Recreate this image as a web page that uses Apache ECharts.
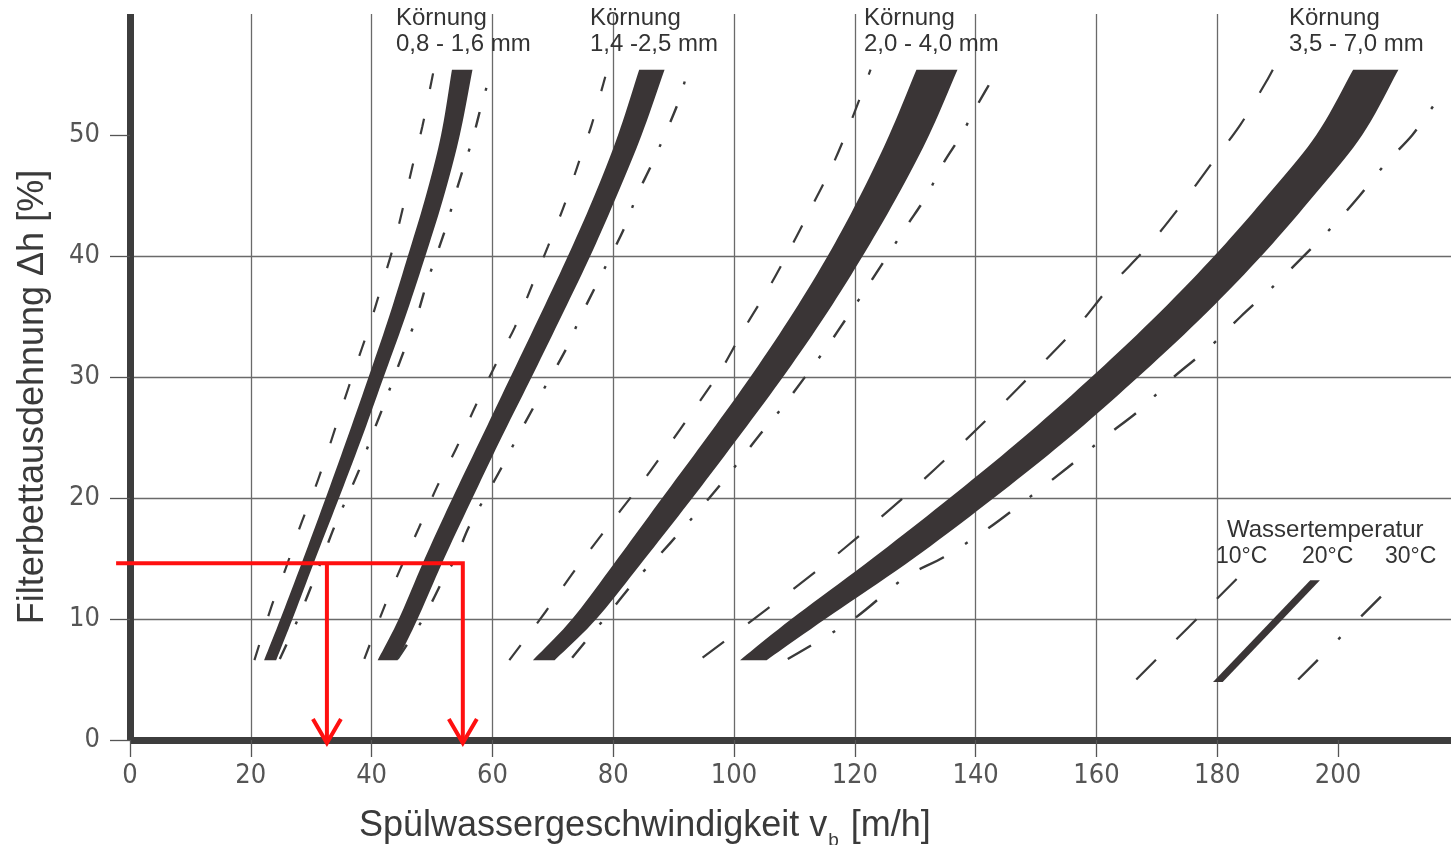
<!DOCTYPE html>
<html><head><meta charset="utf-8">
<script src="https://cdn.jsdelivr.net/npm/echarts@6.0.0/dist/echarts.min.js"></script>
<style>html,body{margin:0;padding:0;background:#fff}#c{width:1451px;height:845px}</style>
</head><body><div id="c"></div><script>
// ---- tick labels ----
const xTickValues = [0, 20, 40, 60, 80, 100, 120, 140, 160, 180, 200];
const yTickValues = [0, 10, 20, 30, 40, 50];

// ---- 20°C bands (left / right edge at each level of Δh) ----
const bandLevels  = [6.6, 10, 15, 20, 25, 30, 35, 40, 45, 50, 55.4];
const g1BandLeft  = [22.2, 24.9, 28.7, 32.4, 36.0, 39.5, 42.9, 46.0, 49.0, 51.5, 53.3];
const g1BandRight = [24.2, 26.9, 30.7, 34.6, 38.4, 42.0, 45.6, 48.9, 52.0, 54.6, 56.7];
const g2BandLeft  = [41.0, 44.5, 48.8, 53.4, 58.2, 63.0, 67.8, 72.5, 76.9, 80.8, 84.3];
const g2BandRight = [44.3, 47.6, 52.0, 56.7, 61.5, 66.5, 71.4, 76.2, 80.6, 84.7, 88.5];
const g3BandLeft  = [66.7, 73.2, 80.75, 88.1, 95.5, 102.7, 109.4, 115.5, 120.9, 125.7, 130.2];
const g3BandRight = [70.3, 77.2, 85.25, 93.1, 100.7, 108.1, 115.0, 121.3, 127.1, 132.3, 137.0];
const g4BandLeft  = [101.0, 109.5, 122.9, 135.7, 147.9, 159.2, 169.8, 179.5, 188.3, 196.4, 202.5];
const g4BandRight = [105.4, 115.1, 129.7, 143.0, 155.5, 166.9, 177.6, 187.3, 196.0, 204.0, 210.0];

// ---- 10°C dashed curves [v, Δh] ----
const g1Cold = [[20.6,6.6],[23.4,11.0],[25.8,14.2],[28.2,17.7],[30.7,20.9],[32.9,24.1],[35.1,27.5],[37.3,30.8],[39.5,34.0],[41.7,37.6],[43.5,40.6],[45.2,44.0],[46.8,47.5],[48.4,50.7],[49.9,54.4],[50.3,55.4]];
const g2Cold = [[38.8,6.7],[42.1,11.0],[44.8,14.2],[47.8,17.5],[50.8,20.9],[54.1,24.2],[57.2,27.6],[60.7,31.2],[63.7,34.1],[66.5,37.5],[69.2,40.8],[71.9,44.2],[74.2,47.6],[76.4,50.8],[78.4,54.3],[79.0,55.4]];
const g3Cold = [[62.8,6.6],[68.8,10.6],[73.6,14.0],[78.6,17.3],[83.9,20.7],[88.7,24.0],[93.5,27.4],[98.0,30.7],[101.8,34.1],[105.8,37.4],[109.4,40.7],[112.9,44.1],[116.3,47.5],[119.1,50.8],[121.8,54.3],[122.6,55.4]];
const g4Cold = [[94.8,6.8],[105.4,10.8],[114.5,14.3],[122.2,17.5],[129.8,20.8],[136.9,24.1],[143.7,27.4],[150.4,30.8],[156.9,34.2],[162.3,37.5],[168.7,40.9],[174.0,44.2],[179.0,47.6],[183.9,50.9],[188.1,54.4],[189.2,55.4]];

// ---- 30°C dash-dot curves [v, Δh] ----
const g1Warm = [[24.8,6.7],[27.9,10.1],[30.8,13.7],[31.9,15.1],[33.9,17.7],[38.0,22.4],[40.0,25.1],[41.8,27.4],[45.6,32.5],[47.5,35.0],[49.1,37.7],[52.4,42.5],[53.8,45.0],[55.4,47.6],[56.9,50.0],[58.2,52.5],[59.6,54.9]];
const g2Warm = [[44.3,6.7],[48.5,10.0],[52.2,13.6],[54.0,15.1],[56.1,17.6],[61.5,22.5],[64.2,25.1],[66.7,27.4],[72.4,32.5],[74.6,35.0],[77.3,37.7],[82.0,42.5],[83.9,45.0],[86.4,47.6],[90.7,52.6],[92.1,54.9]];
const g3Warm = [[73.2,6.8],[78.5,10.0],[84.2,13.5],[87.3,15.1],[91.6,17.5],[95.9,20.0],[100.0,22.5],[103.9,25.0],[108.0,27.5],[115.4,32.5],[118.8,35.0],[122.4,37.7],[128.6,42.5],[131.8,44.9],[134.7,47.7],[137.5,49.9],[140.3,52.5],[143.1,54.9]];
const g4Warm = [[108.9,6.7],[119.8,10.0],[128.5,13.5],[134.7,15.1],[142.1,17.5],[148.5,19.9],[155.2,22.5],[161.3,25.0],[167.5,27.4],[172.8,30.0],[178.6,32.4],[183.9,35.0],[189.5,37.6],[199.2,42.5],[203.6,45.0],[207.8,47.6],[212.3,50.0],[215.9,52.5]];

// ---- legend key (Wassertemperatur) ----
const keyBandLevels = [4.8, 13.2];
const keyBandLeft   = [179.3, 195.4];
const keyBandRight  = [180.9, 197.0];
const keyCold = [[166.6,5.0],[183.4,13.4]];
const keyWarm = [[193.4,5.0],[209.8,13.2]];

// ---- red reading construction ----
const readLevel  = 14.6;
const readStartX = -2.3;
const readValues = [32.6, 55.1];
const readTipY   = -0.25;

// ---- texts ----
const grainLabels = ['Körnung\n0,8 - 1,6 mm', 'Körnung\n1,4 -2,5 mm', 'Körnung\n2,0 - 4,0 mm', 'Körnung\n3,5 - 7,0 mm'];
const tempTitle = 'Wassertemperatur';
const tempLabels = ['10°C', '20°C', '30°C'];

const BAND = '#3a3536';
const LINE = '#3a3a3a';
const axisFont = "'Liberation Sans Narrow','DejaVu Sans Condensed','Liberation Sans',Arial,sans-serif";
const textFont = "'Liberation Sans',Arial,Helvetica,sans-serif";

function spline(p) {
  const out = [], n = p.length;
  if (n < 3) return p.slice();
  for (let i = 0; i < n - 1; i++) {
    const p0 = p[Math.max(i - 1, 0)], p1 = p[i], p2 = p[i + 1], p3 = p[Math.min(i + 2, n - 1)];
    for (let s = 0; s < 10; s++) {
      const t = s / 10, t2 = t * t, t3 = t2 * t;
      const f = (a, b, c, d) => 0.5 * (2 * b + (-a + c) * t + (2 * a - 5 * b + 4 * c - d) * t2 + (-a + 3 * b - 3 * c + d) * t3);
      out.push([f(p0[0], p1[0], p2[0], p3[0]), f(p0[1], p1[1], p2[1], p3[1])]);
    }
  }
  out.push(p[n - 1]);
  return out;
}

function bandSeries(levels, lefts, rights) {
  return {
    type: 'custom', silent: true, z: 3,
    data: [[lefts[0], levels[0]]],
    renderItem: function (params, api) {
      const L = levels.map((y, i) => api.coord([lefts[i], y]));
      const R = levels.map((y, i) => api.coord([rights[i], y]));
      const pts = spline(L).concat(spline(R).reverse());
      return { type: 'polygon', shape: { points: pts }, style: { fill: BAND } };
    }
  };
}

function curveSeries(data, dash, width) {
  return {
    type: 'line', data: data, showSymbol: false, symbol: 'none', smooth: 0.3, silent: true, z: 4,
    lineStyle: { color: LINE, width: width || 2.2, type: dash, cap: 'butt' }
  };
}

const redSeries = {
  type: 'custom', silent: true, clip: false, z: 10,
  data: [[readValues[0], readLevel]],
  renderItem: function (params, api) {
    const red = { stroke: '#ff1010', lineWidth: 4, fill: null, lineJoin: 'miter' };
    const far = readValues[readValues.length - 1];
    const start = api.coord([readStartX, readLevel]);
    const children = [];
    const corner = api.coord([far, readLevel]);
    const farTip = api.coord([far, readTipY]);
    children.push({ type: 'polyline', shape: { points: [start, corner, farTip] }, style: red });
    readValues.forEach(function (v) {
      const top = api.coord([v, readLevel]);
      const tip = api.coord([v, readTipY]);
      if (v !== far) children.push({ type: 'polyline', shape: { points: [top, tip] }, style: red });
      children.push({ type: 'polyline', shape: { points: [[tip[0] - 14, tip[1] - 24], tip, [tip[0] + 14, tip[1] - 24]] }, style: red });
    });
    return { type: 'group', children: children };
  }
};

const grainX = [396, 590, 864, 1289];
const graphics = grainLabels.map((t, i) => ({
  type: 'text', x: grainX[i], y: 5, z: 20,
  style: { text: t, font: '24px ' + textFont, fill: '#333', lineHeight: 26, verticalAlign: 'top' }
}));
graphics.push({ type: 'text', x: 1227, y: 518, z: 20,
  style: { text: tempTitle, font: '24px ' + textFont, fill: '#333', verticalAlign: 'top' } });
[1216, 1302, 1385].forEach((x, i) => graphics.push({ type: 'text', x: x, y: 545, z: 20,
  style: { text: tempLabels[i], font: '23px ' + textFont, fill: '#333', verticalAlign: 'top' } }));
graphics.push({ type: 'text', x: 33, y: 397, rotation: Math.PI / 2, z: 20,
  style: { text: 'Filterbettausdehnung Δh [%]', font: '36px ' + textFont, fill: '#3a3a3a', align: 'center', verticalAlign: 'middle' } });
graphics.push({ type: 'text', x: 359, y: 802, z: 20,
  style: { text: '{a|Spülwassergeschwindigkeit v}{b|b}{a| [m/h]}', fill: '#3a3a3a', verticalAlign: 'top',
    rich: { a: { font: '36px ' + textFont, fill: '#3a3a3a', lineHeight: 42, verticalAlign: 'bottom' },
            b: { font: '19px ' + textFont, fill: '#3a3a3a', lineHeight: 42, verticalAlign: 'bottom', padding: [0, 2, -6, 1] } } } });

const chart = echarts.init(document.getElementById('c'), null, { renderer: 'canvas' });
chart.setOption({
  animation: false,
  backgroundColor: '#fff',
  grid: { left: 130, right: 0, top: 14, bottom: 105 },
  xAxis: {
    type: 'value', min: 0, max: 218.7, interval: 20,
    axisLine: { show: true, onZero: false, lineStyle: { color: '#3d3d3d', width: 7, cap: 'butt' } },
    axisTick: { show: true, length: 17, customValues: xTickValues, lineStyle: { color: '#555', width: 1.3 } },
    axisLabel: { customValues: xTickValues, fontFamily: axisFont, fontSize: 27, color: '#555', margin: 22 },
    splitLine: { show: true, showMaxLine: false, lineStyle: { color: '#6a6a6a', width: 1.3 } }
  },
  yAxis: {
    type: 'value', min: 0, max: 60, interval: 10,
    axisLine: { show: true, onZero: false, lineStyle: { color: '#3d3d3d', width: 7, cap: 'butt' } },
    axisTick: { show: true, length: 20, customValues: yTickValues, lineStyle: { color: '#555', width: 1.3 } },
    axisLabel: { customValues: yTickValues, fontFamily: axisFont, fontSize: 27, color: '#555', margin: 30 },
    splitLine: { show: true, showMaxLine: false, lineStyle: { color: '#6a6a6a', width: 1.3 } }
  },
  graphic: graphics,
  series: [
    bandSeries(bandLevels, g1BandLeft, g1BandRight),
    bandSeries(bandLevels, g2BandLeft, g2BandRight),
    bandSeries(bandLevels, g3BandLeft, g3BandRight),
    bandSeries(bandLevels, g4BandLeft, g4BandRight),
    bandSeries(keyBandLevels, keyBandLeft, keyBandRight),
    curveSeries(g1Cold, [16, 30]),
    curveSeries(g2Cold, [15, 29]),
    curveSeries(g3Cold, [19, 27]),
    curveSeries(g4Cold, [27, 30]),
    curveSeries(keyCold, [28, 29]),
    curveSeries(g1Warm, [16, 22, 3, 22], 2.4),
    curveSeries(g2Warm, [17, 23, 3, 24], 2.4),
    curveSeries(g3Warm, [20, 23, 3, 23], 2.4),
    curveSeries(g4Warm, [27, 25, 3, 25], 2.4),
    curveSeries(keyWarm, [28, 29, 3, 29], 2.4),
    redSeries
  ]
});
</script></body></html>
